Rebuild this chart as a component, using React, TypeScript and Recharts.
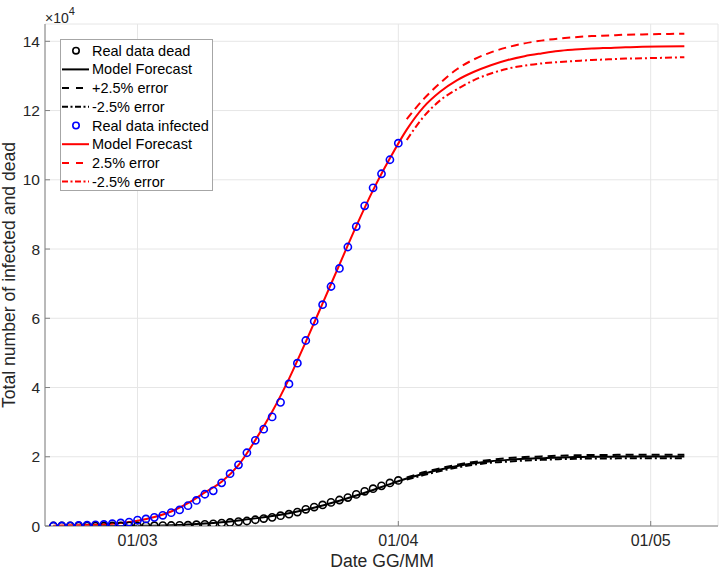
import React from "react";
import {
  ComposedChart,
  Line,
  XAxis,
  YAxis,
  CartesianGrid,
  Legend,
  Label,
} from "recharts";

// day 0 = 01/03, first real sample is 20/02
const firstDay = -10;

// Italy cumulative counts, one per day
const infectedReal = [
  3, 20, 62, 155, 229, 322, 453, 655, 888, 1128, 1694, 2036, 2502, 3089, 3858,
  4636, 5883, 7375, 9172, 10149, 12462, 15113, 17660, 21157, 24747, 27980,
  31506, 35713, 41035, 47021, 53578, 59138, 63927, 69176, 74386, 80589, 86498,
  92472, 97689, 101739, 105792, 110574,
];
const deadReal = [
  0, 1, 2, 3, 7, 10, 12, 17, 21, 29, 34, 52, 79, 107, 148, 197, 233, 366, 463,
  631, 827, 1016, 1266, 1441, 1809, 2158, 2503, 2978, 3405, 4032, 4825, 5476,
  6077, 6820, 7503, 8215, 9134, 10023, 10779, 11591, 12428, 13155,
];

// model curves, values in units of 10^4
const modelDays = [
  -10, -8, -6, -4, -2, 0, 2, 4, 6, 8, 10, 12, 14, 16, 18, 20, 22, 24, 26, 28,
  30, 32, 34, 36, 38, 40, 42, 44, 46, 48, 50, 52, 54, 56, 58, 60, 62, 65,
];
const infectedModel = [
  0.01, 0.02, 0.03, 0.05, 0.09, 0.15, 0.26, 0.42, 0.66, 0.97, 1.28, 1.76, 2.48,
  3.3, 4.25, 5.32, 6.43, 7.55, 8.66, 9.7, 10.62, 11.45, 12.1, 12.55, 12.88,
  13.12, 13.31, 13.46, 13.57, 13.65, 13.72, 13.76, 13.79, 13.81, 13.83, 13.84,
  13.85, 13.86,
];
const deadModel = [
  0, 0, 0.0005, 0.001, 0.002, 0.005, 0.01, 0.02, 0.04, 0.07, 0.11, 0.16, 0.22,
  0.29, 0.37, 0.47, 0.59, 0.73, 0.88, 1.04, 1.21, 1.37, 1.51, 1.63, 1.73, 1.81,
  1.87, 1.91, 1.94, 1.96, 1.98, 1.99, 2.0, 2.0, 2.01, 2.01, 2.01, 2.01,
];

const errDays = [32, 34, 36, 38, 40, 42, 44, 46, 48, 50, 52, 54, 56, 58, 60, 62, 65];
const infectedUp = [
  11.75, 12.33, 12.8, 13.2, 13.48, 13.68, 13.83, 13.94, 14.02, 14.08, 14.12,
  14.15, 14.17, 14.19, 14.2, 14.21, 14.22,
];
const infectedLow = [
  11.15, 11.82, 12.3, 12.62, 12.88, 13.07, 13.21, 13.3, 13.36, 13.4, 13.43,
  13.46, 13.48, 13.5, 13.51, 13.52, 13.54,
];
const deadUp = [
  1.4, 1.55, 1.67, 1.77, 1.85, 1.91, 1.96, 1.99, 2.01, 2.03, 2.04, 2.05, 2.05,
  2.06, 2.06, 2.06, 2.06,
];
const deadLow = [
  1.34, 1.47, 1.59, 1.69, 1.77, 1.83, 1.86, 1.89, 1.91, 1.93, 1.94, 1.95, 1.95,
  1.96, 1.96, 1.96, 1.96,
];

const xTicks = [0, 31, 61];
const xTickLabels = ["01/03", "01/04", "01/05"];
const yTicks = [0, 2, 4, 6, 8, 10, 12, 14];

const legendLabels = [
  "Real data dead",
  "Model Forecast",
  "+2.5% error",
  "-2.5% error",
  "Real data infected",
  "Model Forecast",
  "2.5% error",
  "-2.5% error",
];

const FONT = "Arial, 'Liberation Sans', Helvetica, sans-serif";
const TXT = "#262626";
const DASH = "8 5";
const DASHDOT = "7 3 2 3";

const realPts = (vals: number[]) =>
  vals.map((v, i) => ({ x: firstDay + i, y: v / 10000 }));
const curve = (xs: number[], ys: number[]) =>
  xs.map((x, i) => ({ x, y: ys[i] }));

const legendStyles = [
  { color: "#000", kind: "circle" },
  { color: "#000", kind: "solid" },
  { color: "#000", kind: "dash" },
  { color: "#000", kind: "dashdot" },
  { color: "#0000ff", kind: "circle" },
  { color: "#ff0000", kind: "solid" },
  { color: "#ff0000", kind: "dash" },
  { color: "#ff0000", kind: "dashdot" },
];

const LegendBox = () => (
  <svg width={153} height={152} style={{ display: "block" }}>
    <rect x={0.5} y={0.5} width={152} height={151} fill="#fff" stroke="#a6a6a6" />
    {legendLabels.map((label, i) => {
      const cy = 11.7 + i * 18.7;
      const st = legendStyles[i];
      return (
        <g key={i}>
          {st.kind === "circle" ? (
            <circle cx={16} cy={cy} r={3.2} fill="none" stroke={st.color} strokeWidth={1.6} />
          ) : (
            <line
              x1={2}
              x2={29}
              y1={cy}
              y2={cy}
              stroke={st.color}
              strokeWidth={2}
              strokeDasharray={
                st.kind === "dash" ? "7 7" : st.kind === "dashdot" ? "6 2.5 2 2.5" : undefined
              }
            />
          )}
          <text x={32} y={cy + 5} fontSize={14.5} fontFamily={FONT} fill="#000">
            {label}
          </text>
        </g>
      );
    })}
  </svg>
);

export default function App() {
  const dot = (color: string) => ({
    r: 3.6,
    fill: "none",
    stroke: color,
    strokeWidth: 1.6,
  });

  return (
    <div
      style={{
        position: "absolute",
        left: 0,
        top: 0,
        width: 722,
        height: 572,
        background: "#fff",
        fontFamily: FONT,
      }}
    >
      <ComposedChart
        width={722}
        height={572}
        margin={{ top: 24, right: 4, bottom: 0, left: 0 }}
      >
        <CartesianGrid stroke="#e6e6e6" />
        <XAxis
          type="number"
          dataKey="x"
          domain={[-11, 69]}
          ticks={xTicks}
          tickFormatter={(v: number) => xTickLabels[xTicks.indexOf(v)] ?? ""}
          height={46}
          tickSize={-5}
          tickMargin={14}
          stroke="#808080"
          tick={{ fill: TXT, fontSize: 16, fontFamily: FONT }}
          allowDataOverflow
        >
          <Label
            content={() => (
              <text x={382} y={567} textAnchor="middle" fontSize={17.6} fontFamily={FONT} fill={TXT}>
                Date GG/MM
              </text>
            )}
          />
        </XAxis>
        <YAxis
          type="number"
          dataKey="y"
          domain={[0, 14.5]}
          ticks={yTicks}
          width={45}
          tickSize={-5}
          tickMargin={10}
          stroke="#808080"
          tick={{ fill: TXT, fontSize: 15.5, fontFamily: FONT }}
          allowDataOverflow
        >
          <Label
            content={() => (
              <g>
                <text
                  x={15}
                  y={275}
                  transform="rotate(-90 15 275)"
                  textAnchor="middle"
                  fontSize={17.6}
                  fontFamily={FONT}
                  fill={TXT}
                >
                  Total number of infected and dead
                </text>
                <text x={45} y={23} fontSize={14} fontFamily={FONT} fill={TXT}>
                  ×10
                  <tspan dy={-8} fontSize={11}>
                    4
                  </tspan>
                </text>
              </g>
            )}
          />
        </YAxis>

        <Line data={realPts(deadReal)} dataKey="y" stroke="none" strokeWidth={0} dot={dot("#000")} activeDot={false} isAnimationActive={false} />
        <Line data={curve(modelDays, deadModel)} dataKey="y" type="monotone" stroke="#000" strokeWidth={2} dot={false} activeDot={false} isAnimationActive={false} />
        <Line data={curve(errDays, deadUp)} dataKey="y" type="monotone" stroke="#000" strokeWidth={2} strokeDasharray={DASH} dot={false} activeDot={false} isAnimationActive={false} />
        <Line data={curve(errDays, deadLow)} dataKey="y" type="monotone" stroke="#000" strokeWidth={2} strokeDasharray={DASHDOT} dot={false} activeDot={false} isAnimationActive={false} />

        <Line data={realPts(infectedReal)} dataKey="y" stroke="none" strokeWidth={0} dot={dot("#0000ff")} activeDot={false} isAnimationActive={false} />
        <Line data={curve(modelDays, infectedModel)} dataKey="y" type="monotone" stroke="#ff0000" strokeWidth={2} dot={false} activeDot={false} isAnimationActive={false} />
        <Line data={curve(errDays, infectedUp)} dataKey="y" type="monotone" stroke="#ff0000" strokeWidth={2} strokeDasharray={DASH} dot={false} activeDot={false} isAnimationActive={false} />
        <Line data={curve(errDays, infectedLow)} dataKey="y" type="monotone" stroke="#ff0000" strokeWidth={2} strokeDasharray={DASHDOT} dot={false} activeDot={false} isAnimationActive={false} />

        <Legend
          layout="vertical"
          align="center"
          verticalAlign="middle"
          content={() => <LegendBox />}
          wrapperStyle={{ left: 60, top: 39, width: 153, height: 152 }}
        />
      </ComposedChart>
    </div>
  );
}
